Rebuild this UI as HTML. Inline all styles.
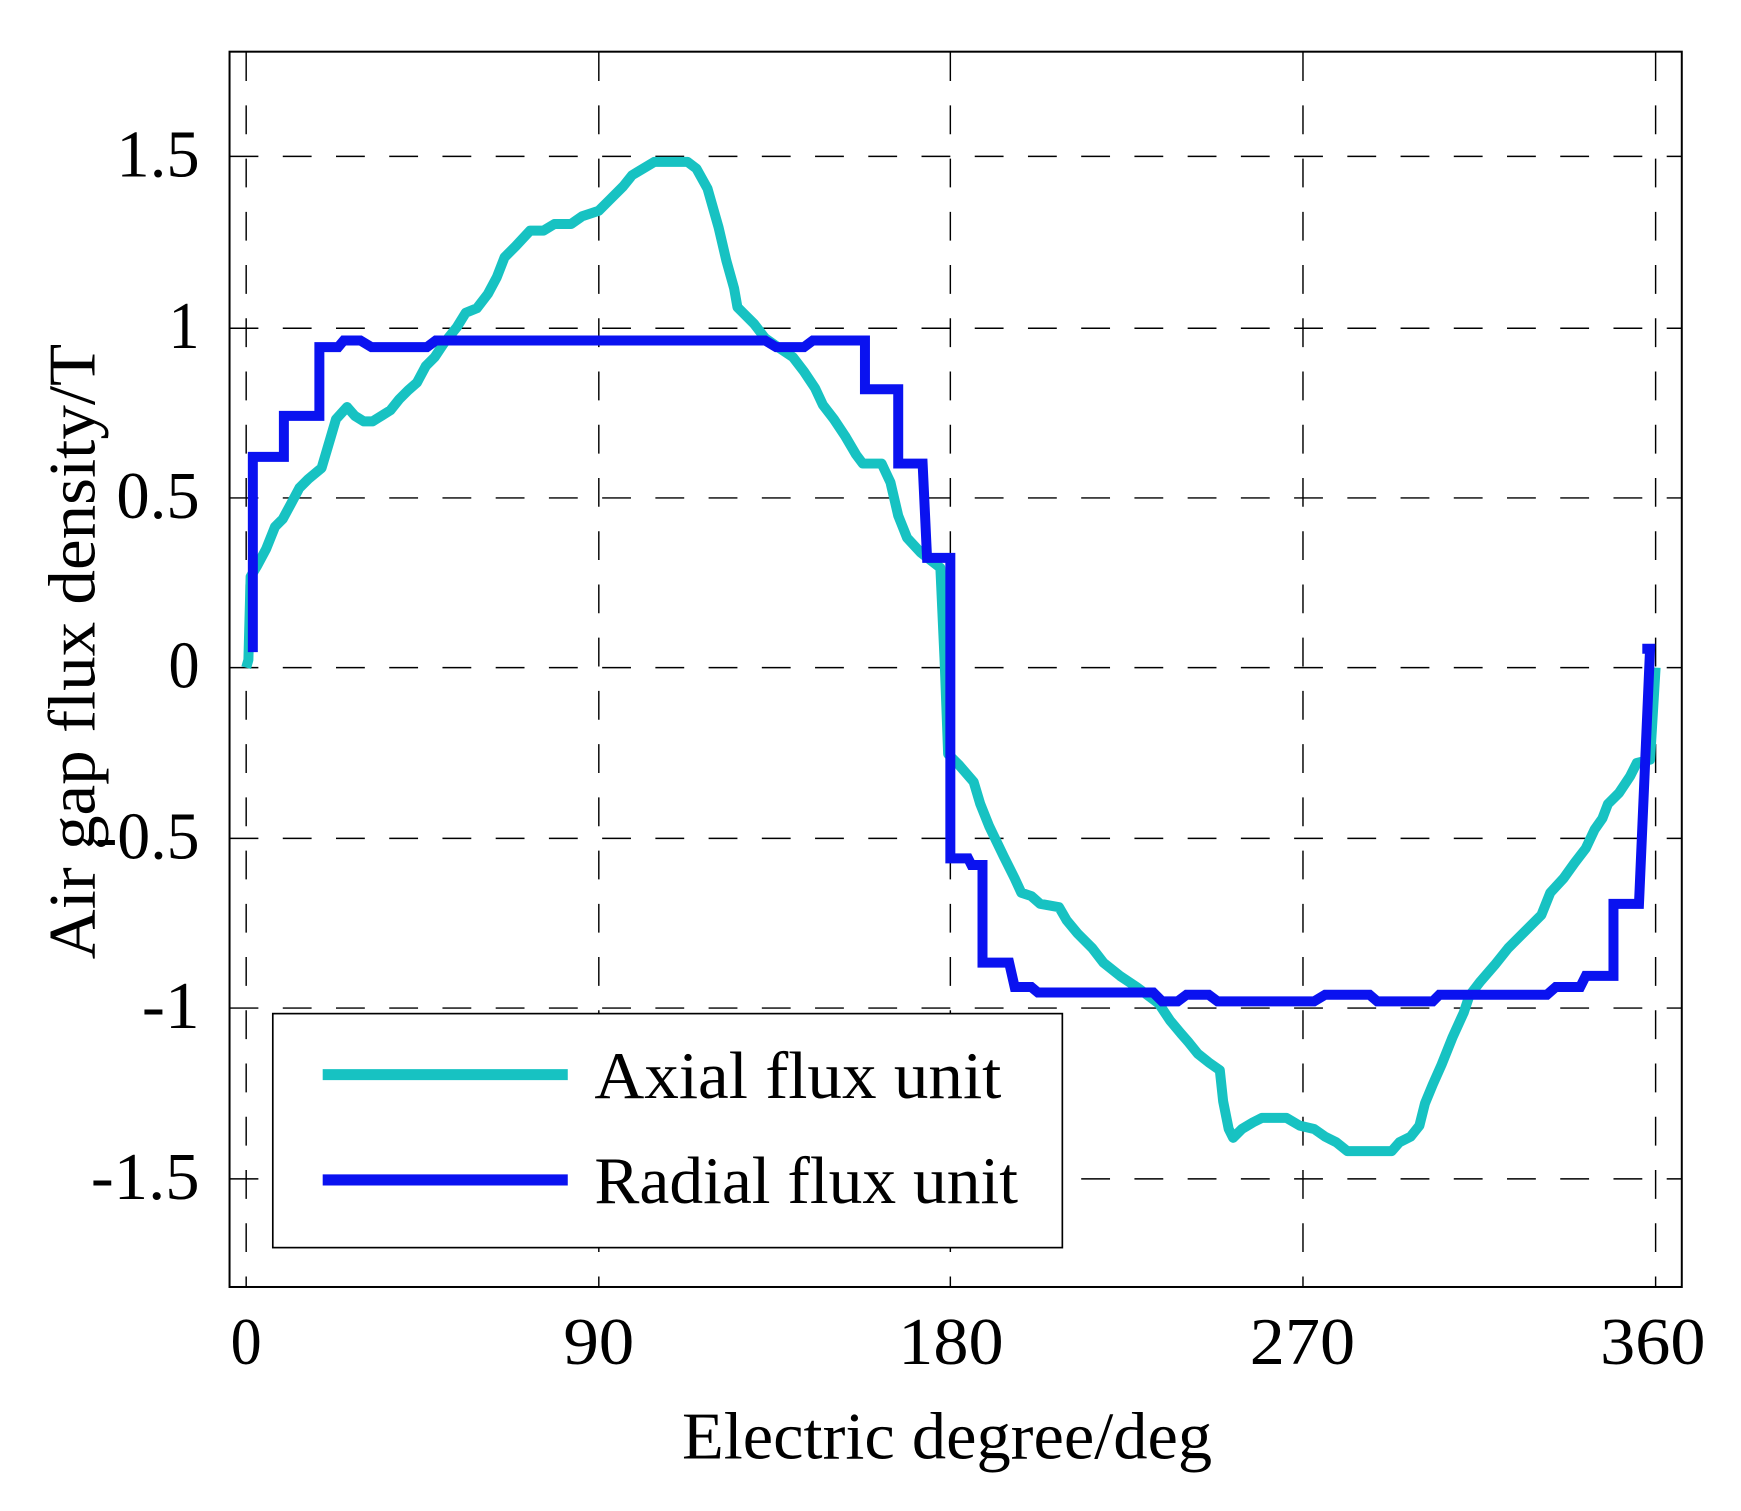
<!DOCTYPE html>
<html><head><meta charset="utf-8"><style>html,body{margin:0;padding:0;background:#fff}svg{display:block}</style></head>
<body>
<svg width="1741" height="1511" viewBox="0 0 1570 1362.5" preserveAspectRatio="none" xmlns="http://www.w3.org/2000/svg" font-family="Liberation Serif, serif">
<rect width="1570" height="1362.5" fill="#fff"/>
<g stroke="#000" stroke-width="1.3" stroke-dasharray="26,22" fill="none">
<line x1="222" y1="47" x2="222" y2="1160"/>
<line x1="540" y1="47" x2="540" y2="1160"/>
<line x1="857" y1="47" x2="857" y2="1160"/>
<line x1="1175" y1="47" x2="1175" y2="1160"/>
<line x1="1493" y1="47" x2="1493" y2="1160"/>
<line x1="207" y1="141" x2="1516" y2="141"/>
<line x1="207" y1="296" x2="1516" y2="296"/>
<line x1="207" y1="449" x2="1516" y2="449"/>
<line x1="207" y1="602" x2="1516" y2="602"/>
<line x1="207" y1="756" x2="1516" y2="756"/>
<line x1="207" y1="909" x2="1516" y2="909"/>
<line x1="207" y1="1063" x2="1516" y2="1063"/>
</g>
<rect x="207" y="46.6" width="1309.6" height="1113.9" fill="none" stroke="#000" stroke-width="1.8"/>
<polyline fill="none" stroke="#17c2c2" stroke-width="9" stroke-linejoin="round" points="222,602 224,595 226,520 232,510 240,495 248,475 255,468 262,455 270,440 278,432 290,422 298,395 303,378 313,367 320,375 328,380 336,380 344,375 352,370 360,360 368,352 376,345 384,330 392,322 400,310 412,295 420,282 430,278 440,265 448,250 455,232 465,222 478,208 490,208 500,202 515,202 525,195 540,190 550,180 562,168 570,158 580,152 590,146 620,146 628,152 638,170 648,205 655,235 662,260 665,277 670,282 680,292 690,305 700,312 715,322 725,335 735,350 742,365 752,378 762,393 772,410 778,418 795,418 803,435 810,465 818,485 830,498 848,512 852,600 855,680 865,690 878,705 884,725 892,745 905,772 915,792 921,805 930,808 938,815 955,818 962,830 972,842 985,855 995,868 1010,880 1025,890 1045,905 1055,920 1065,932 1072,940 1080,950 1090,958 1100,965 1103,993 1108,1018 1112,1026 1120,1018 1130,1012 1138,1008 1160,1008 1172,1015 1185,1018 1195,1025 1205,1030 1215,1038 1255,1038 1262,1030 1272,1025 1280,1015 1285,995 1292,978 1300,960 1310,935 1320,913 1325,898 1335,885 1348,870 1360,855 1375,840 1390,825 1398,805 1410,792 1420,778 1430,765 1438,748 1445,738 1450,725 1460,715 1470,700 1476,688 1488,685 1493,602"/>
<polyline fill="none" stroke="#0a12f0" stroke-width="9" stroke-linejoin="miter" points="228,588 228,412 256,412 256,375 288,375 288,313 305,313 310,307 325,307 335,313 385,313 393,307 690,307 700,313 725,313 733,307 780,307 780,351 810,351 810,418 832,418 836,503 857,503 857,774 873,774 876,780 886,780 886,868 910,868 915,890 930,890 936,895 1040,895 1048,903 1062,903 1070,897 1090,897 1098,903 1185,903 1195,897 1235,897 1242,903 1292,903 1298,897 1395,897 1403,890 1425,890 1430,880 1455,880 1455,815 1478,815 1483,700 1488,585 1481,585"/>
<g font-size="60" fill="#000">
<text x="105" y="159" textLength="75" lengthAdjust="spacingAndGlyphs">1.5</text>
<text x="152" y="314" textLength="28" lengthAdjust="spacingAndGlyphs">1</text>
<text x="105" y="467" textLength="75" lengthAdjust="spacingAndGlyphs">0.5</text>
<text x="152" y="620" textLength="28" lengthAdjust="spacingAndGlyphs">0</text>
<text x="86" y="774" textLength="94" lengthAdjust="spacingAndGlyphs">-0.5</text>
<text x="128" y="927" textLength="52" lengthAdjust="spacingAndGlyphs">-1</text>
<text x="82" y="1081" textLength="98" lengthAdjust="spacingAndGlyphs">-1.5</text>
<text x="208" y="1230" textLength="28" lengthAdjust="spacingAndGlyphs">0</text>
<text x="508" y="1230" textLength="64" lengthAdjust="spacingAndGlyphs">90</text>
<text x="810" y="1230" textLength="95" lengthAdjust="spacingAndGlyphs">180</text>
<text x="1127" y="1230" textLength="95" lengthAdjust="spacingAndGlyphs">270</text>
<text x="1443" y="1230" textLength="95" lengthAdjust="spacingAndGlyphs">360</text>
<text x="615" y="1315" textLength="478" lengthAdjust="spacingAndGlyphs">Electric degree/deg</text>
<text transform="translate(85,865) rotate(-90)" x="0" y="0" textLength="555" lengthAdjust="spacingAndGlyphs">Air gap flux density/T</text>
</g>
<rect x="246" y="914" width="712" height="211" fill="#fff" stroke="#000" stroke-width="1.5"/>
<line x1="291" y1="969" x2="512" y2="969" stroke="#17c2c2" stroke-width="10"/>
<line x1="291" y1="1064" x2="512" y2="1064" stroke="#0a12f0" stroke-width="10"/>
<g font-size="60" fill="#000">
<text x="536" y="990" textLength="367" lengthAdjust="spacingAndGlyphs">Axial flux unit</text>
<text x="536" y="1085" textLength="382" lengthAdjust="spacingAndGlyphs">Radial flux unit</text>
</g>
</svg>
</body></html>
